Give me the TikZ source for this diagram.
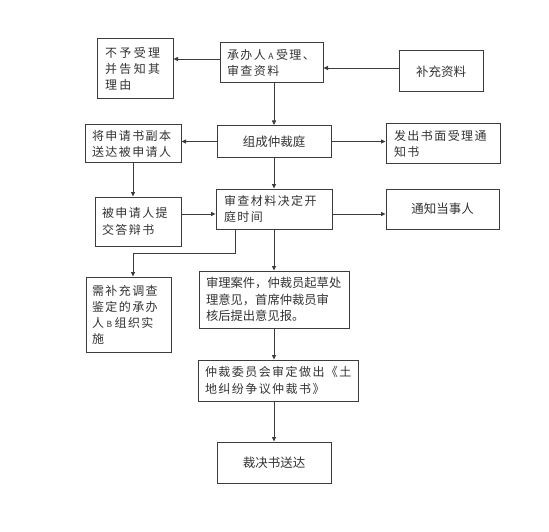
\documentclass[tikz,border=0pt]{standalone}
\usepackage{fontspec}
\setmainfont{Noto Sans CJK SC}
\newfontfamily\cjkA{Noto Sans CJK SC}[LetterSpace=12]
\newfontfamily\cjkB{Noto Sans CJK SC}[LetterSpace=20]
\usetikzlibrary{arrows.meta}
\definecolor{lncol}{HTML}{3C3C3C}
\definecolor{txcol}{HTML}{333333}
\newcommand{\sml}[1]{\hspace{2.5pt}{\fontsize{8.5}{8.5}\selectfont #1}\hspace{2.5pt}}
\begin{document}
\begin{tikzpicture}[x=1pt,y=-1pt,
  box/.style={draw=lncol, line width=1pt, inner ysep=0pt, inner xsep=0pt, text=txcol,
              font=\fontsize{12.5}{16.5}\selectfont},
  fa/.style={font=\cjkA\fontsize{12}{16.5}\selectfont},
  fb/.style={font=\cjkB\fontsize{12}{16}\selectfont},
  fn/.style={font=\fontsize{12.3}{16.5}\selectfont},
  arr/.style={draw=lncol, line width=0.8pt, -{Triangle[length=4.5pt,width=4pt]}},
  link/.style={draw=lncol, line width=0.8pt}]
\useasboundingbox[fill=white] (0,0) rectangle (549,532);

% nodes
\node[box, fb, minimum width=76, minimum height=60, text width=60, inner xsep=8, align=left] (b1) at (135,69) {不予受理\\并告知其\\理由};
\node[box, fa, minimum width=103, minimum height=40, text width=89, inner xsep=7, align=left] (b2) at (271.5,63) {承办人\sml{A}受理、\\审查资料};
\node[box, minimum width=84, minimum height=41] (b3) at (441,71.5) {补充资料};
\node[box, fa, minimum width=96, minimum height=38, text width=82, inner xsep=7, align=left] (b4) at (133,144) {将申请书副本\\送达被申请人};
\node[box, minimum width=114, minimum height=32] (b5) at (274,141.5) {组成仲裁庭};
\node[box, fa, minimum width=114, minimum height=40, text width=98, inner xsep=8, align=left] (b6) at (443,144) {发出书面受理通\\知书};
\node[box, fa, minimum width=86, minimum height=49, text width=72, inner xsep=7, align=left] (b7) at (138,221.5) {被申请人提\\交答辩书};
\node[box, fa, minimum width=114, minimum height=40, text width=100, inner xsep=8, align=left] (b8) at (274,209) {审查材料决定开\\庭时间};
\node[box, minimum width=113, minimum height=40] (b9) at (442.5,209) {通知当事人};
\node[box, fa, minimum width=85, minimum height=75, text width=73, inner xsep=6, align=left, font=\cjkA\fontsize{12}{16}\selectfont] (b10) at (128.5,314.5) {需补充调查\\鉴定的承办\\人\sml{B}组织实\\施};
\node[box, fn, minimum width=150, minimum height=57, text width=136, inner xsep=7, align=left] (b11) at (274,299.5) {审理案件，仲裁员起草处\\理意见，首席仲裁员审\\核后提出意见报。};
\node[box, fa, minimum width=160, minimum height=41, text width=146, inner xsep=7, align=left] (b12) at (278,380.5) {仲裁委员会审定做出《土\\地纠纷争议仲裁书》};
\node[box, minimum width=114, minimum height=41] (b13) at (274,462.5) {裁决书送达};

% helper coordinates
\coordinate (c1) at ([yshift=4pt]b2.west);
\coordinate (c2) at (b3.west |- 0,68);
\coordinate (c3) at (b7.east |- 0,214);
\coordinate (c4) at (b8.east |- 0,214);
\coordinate (c5) at (235,0);
\coordinate (c6) at (133,253);
\coordinate (c7) at (274,0);

% connectors
\draw[arr] (c1) -- (c1 -| b1.east);
\draw[arr] (c2) -- (c2 -| b2.east);
\draw[arr] (b2.south -| c7) -- (b5.north);
\draw[arr] (b5.west) -- (b5.west -| b4.east);
\draw[arr] (b5.east) -- (b5.east -| b6.west);
\draw[arr] (b4.south) -- (b4.south |- b7.north);
\draw[arr] (c3) -- (c3 -| b8.west);
\draw[arr] (b5.south) -- (b8.north);
\draw[arr] (c4) -- (c4 -| b9.west);
\draw[arr] (b8.south -| c5) |- (c6) -- (c6 |- b10.north);
\draw[arr] (b8.south) -- (b11.north);
\draw[arr] (b11.south) -- (b11.south |- b12.north);
\draw[arr] (b12.south -| c7) -- (b13.north);
\end{tikzpicture}
\end{document}
